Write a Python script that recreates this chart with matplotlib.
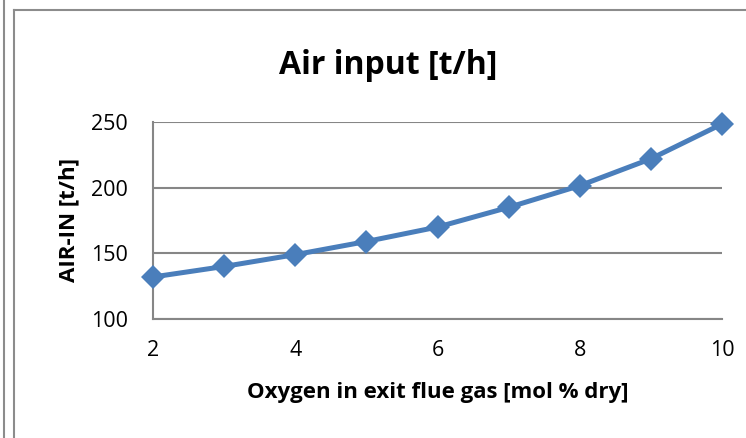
import matplotlib.pyplot as plt
from matplotlib.lines import Line2D

oxygen = [2, 3, 4, 5, 6, 7, 8, 9, 10]
air_in = [132, 140, 149, 159, 170, 185, 201.5, 222, 248.5]
x_ticks = [2, 4, 6, 8, 10]
y_ticks = [100, 150, 200, 250]

plt.rcParams["font.family"] = ["Open Sans", "DejaVu Sans"]

W, H = 746, 438
fig = plt.figure(figsize=(W / 100, H / 100), dpi=100)
fig.patch.set_facecolor("white")

ax = fig.add_axes([153 / W, 1 - 319 / H, (722 - 153) / W, (319 - 122) / H])
ax.plot(oxygen, air_in, color="#4a7ebb", linewidth=3.6, marker="D",
        markersize=12, markeredgewidth=0, clip_on=False, zorder=3)

ax.set_xlim(2, 10)
ax.set_ylim(100, 250)
ax.set_xticks(x_ticks)
ax.set_yticks(y_ticks)
ax.tick_params(length=0, labelsize=15.5)
ax.tick_params(axis="x", pad=15)
ax.tick_params(axis="y", pad=18)
ax.grid(axis="y", color="#868686", linewidth=1.5)
ax.set_axisbelow(True)
for s in ["top", "right"]:
    ax.spines[s].set_visible(False)
for s in ["left", "bottom"]:
    ax.spines[s].set_color("#868686")
    ax.spines[s].set_linewidth(1.5)

ax.set_xlabel("Oxygen in exit flue gas [mol % dry]", fontsize=16,
              fontweight="bold", labelpad=15)
ax.set_ylabel("AIR-IN [t/h]", fontsize=16, fontweight="bold", labelpad=8)

fig.text(388 / W, 1 - 65 / H, "Air input [t/h]", fontsize=23,
         fontweight="bold", ha="center", va="center")

# chart frame lines
frame = dict(color="#8c8c8c", linewidth=1.5, transform=fig.transFigure)
fig.add_artist(Line2D([4 / W, 4 / W], [0, 1], **frame))
fig.add_artist(Line2D([14 / W, 14 / W], [0, 1 - 10 / H], **frame))
fig.add_artist(Line2D([14 / W, 1], [1 - 10 / H, 1 - 10 / H], **frame))

fig.savefig("out.png", dpi=100, facecolor="white")
